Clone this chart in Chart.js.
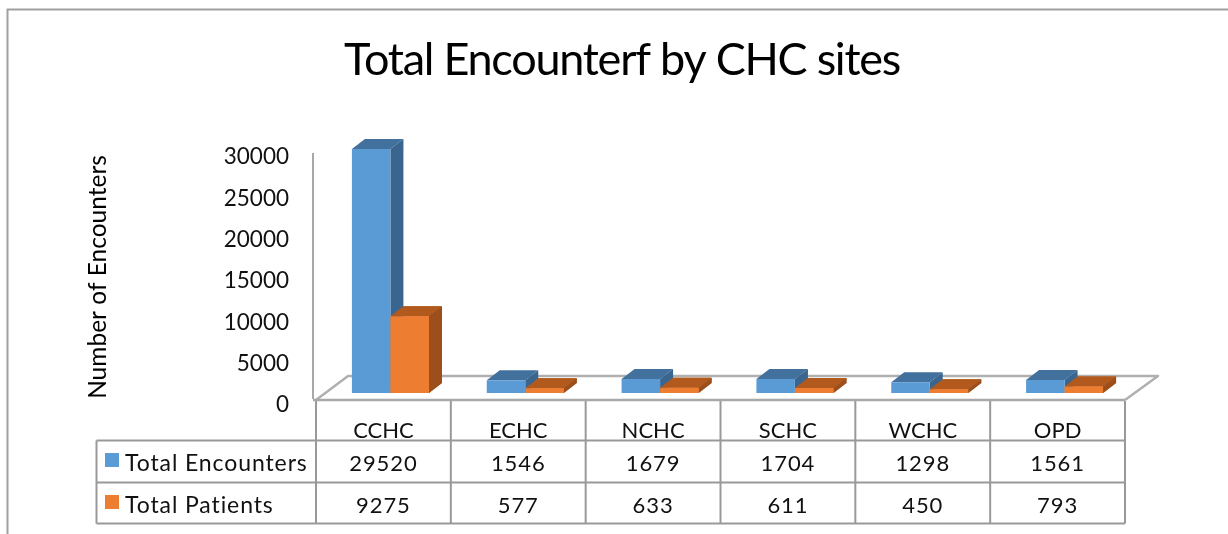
<!DOCTYPE html>
<html><head><meta charset="utf-8">
<style>html,body{margin:0;padding:0;background:#fff}#w{position:relative;width:1228px;height:534px}</style>
<script src="https://cdn.jsdelivr.net/npm/chart.js@4"></script></head>
<body><div id="w"><canvas id="c" width="1228" height="534"></canvas></div>
<script>
const categories = ["CCHC","ECHC","NCHC","SCHC","WCHC","OPD"];
const totalEncounters = [29520,1546,1679,1704,1298,1561];
const totalPatients = [9275,577,633,611,450,793];
const seriesNames = ["Total Encounters","Total Patients"];
const yTicks = [0,5000,10000,15000,20000,25000,30000];
const FONT = "Lato";
const GRID = "#999999";
const front = ["#5b9bd5","#ed7d31"], side = ["#3a658e","#9c4f1b"], top_ = ["#41719c","#b25a1e"];
const BAR_DX = 7, BAR_DY = -8, D_X = 13, D_Y = -10;

function line(ctx,x1,y1,x2,y2,w,col){ctx.beginPath();ctx.moveTo(x1,y1);ctx.lineTo(x2,y2);ctx.lineWidth=w;ctx.strokeStyle=col;ctx.stroke();}
function poly(ctx,pts,col){ctx.beginPath();pts.forEach((p,i)=>i?ctx.lineTo(p[0],p[1]):ctx.moveTo(p[0],p[1]));ctx.closePath();ctx.fillStyle=col;ctx.fill();}
function faces(ctx,meta,i){
  meta.data.forEach(el=>{
    const p=el.getProps(["x","y","base","width"],true);
    const L=p.x-p.width/2,R=p.x+p.width/2;
    poly(ctx,[[L,p.y],[L+D_X,p.y+D_Y],[R+D_X,p.y+D_Y],[R,p.y]],top_[i]);
    poly(ctx,[[R,p.y],[R+D_X,p.y+D_Y],[R+D_X,p.base+D_Y],[R,p.base]],side[i]);
  });
}

const scene = {
  id:"scene",
  afterLayout(chart){
    const ctx=chart.ctx;
    const t=chart.titleBlock;
    if(t && !t._wrapped){
      const d=t.draw;
      t.draw=function(){ctx.save();ctx.letterSpacing="-1.25px";d.apply(t,arguments);ctx.restore();};
      t._wrapped=true;
    }
    const s=chart.scales.y;
    if(!s._wrapped){
      const dl=s.drawLabels;
      s.drawLabels=function(){ctx.save();ctx.translate(0,4);dl.apply(s,arguments);ctx.restore();};
      s._wrapped=true;
    }
  },
  beforeDraw(chart){
    const {ctx,chartArea:a}=chart;
    ctx.save();
    ctx.fillStyle="#fff";ctx.fillRect(0,0,chart.width,chart.height);
    // outer frame: left and top edges only
    ctx.beginPath();ctx.moveTo(7.5,534);ctx.lineTo(7.5,9.5);ctx.lineTo(1228,9.5);
    ctx.lineWidth=2;ctx.strokeStyle="#a0a0a0";ctx.stroke();
    // floor + y axis line
    const l=a.left,r=a.right,b=a.bottom;
    ctx.lineJoin="round";
    ctx.beginPath();ctx.moveTo(l,b-1);ctx.lineTo(l+32,b-25);ctx.lineTo(r+33,b-25);ctx.lineTo(r,b-1);
    ctx.lineWidth=2.5;ctx.strokeStyle="#b0b0b0";ctx.stroke();
    line(ctx,l-3,b-1,r,b-1,2.5,"#a8a8a8");
    line(ctx,l-3,a.top,l-3,b-2,2,"#a8a8a8");
    ctx.restore();
  },
  beforeDatasetsDraw(chart){chart.ctx.save();chart.ctx.translate(BAR_DX,BAR_DY);},
  beforeDatasetDraw(chart,args){
    faces(chart.ctx,args.meta,args.index);
  },
  afterDatasetsDraw(chart){
    // the second series stands in front of the first one's side face
    const ctx=chart.ctx, m=chart.getDatasetMeta(1);
    faces(ctx,m,1);
    m.data.forEach(el=>el.draw(ctx));
    ctx.restore();
  },
  afterDraw(chart){
    const {ctx,chartArea:a,scales:{x}}=chart;
    const rows=[440.5,482.5,523.5], tl=96.5, w=(a.right-a.left)/categories.length;
    ctx.save();
    rows.forEach(y=>line(ctx,tl,y,a.right,y,2,GRID));
    line(ctx,tl,rows[0],tl,rows[2],2,GRID);
    for(let k=0;k<=categories.length;k++){
      const vx=a.left+k*w;
      line(ctx,vx,a.bottom,vx,rows[2],2,GRID);
    }
    ctx.textBaseline="middle";ctx.fillStyle="#111";
    ctx.font="23px "+FONT;
    try{ctx.letterSpacing="0.9px";}catch(e){}
    ctx.textAlign="left";
    seriesNames.forEach((n,i)=>{
      const cy=i?505:463;
      ctx.fillStyle=front[i];ctx.fillRect(105,i?495:453,14,14);
      ctx.fillStyle="#111";ctx.fillText(n,125,cy+1);
    });
    ctx.font="22px "+FONT;
    ctx.textAlign="center";
    [totalEncounters,totalPatients].forEach((arr,i)=>{
      arr.forEach((v,k)=>ctx.fillText(String(v),x.getPixelForValue(k),(i?505:463)+1));
    });
    ctx.restore();
  }
};

new Chart(document.getElementById("c"),{
  type:"bar",
  data:{labels:categories,datasets:[
    {label:seriesNames[0],data:totalEncounters,backgroundColor:front[0],clip:false},
    {label:seriesNames[1],data:totalPatients,backgroundColor:front[1],clip:false}
  ]},
  options:{
    responsive:false,animation:false,
    layout:{padding:{left:16,right:0,top:0,bottom:0}},
    categoryPercentage:0.571,barPercentage:1,
    plugins:{
      legend:{display:false},tooltip:{enabled:false},
      title:{display:true,text:"Total Encounterf by CHC sites",color:"#000",
        font:{family:FONT,size:45,weight:"normal",lineHeight:1},padding:{top:38,bottom:70}}
    },
    scales:{
      x:{
        grid:{display:false},border:{display:false},
        ticks:{color:"#111",font:{family:FONT,size:22},padding:9,maxRotation:0,autoSkip:false},
        afterFit(s){s.height=133;}
      },
      y:{
        min:0,max:30000,
        afterBuildTicks(s){s.ticks=yTicks.map(v=>({value:v}));},
        grid:{display:false},border:{display:false},
        ticks:{color:"#111",font:{family:FONT,size:22.5},padding:19,callback:v=>String(v)},
        title:{display:true,text:"Number of Encounters",color:"#000",font:{family:FONT,size:24.5},padding:{top:67,bottom:0}},
        afterFit(s){s.width=300;}
      },
      spacer:{
        position:"right",display:true,
        grid:{display:false},border:{display:false},ticks:{display:false},
        afterFit(s){s.width=103;}
      }
    }
  },
  plugins:[scene]
});
</script></body></html>
